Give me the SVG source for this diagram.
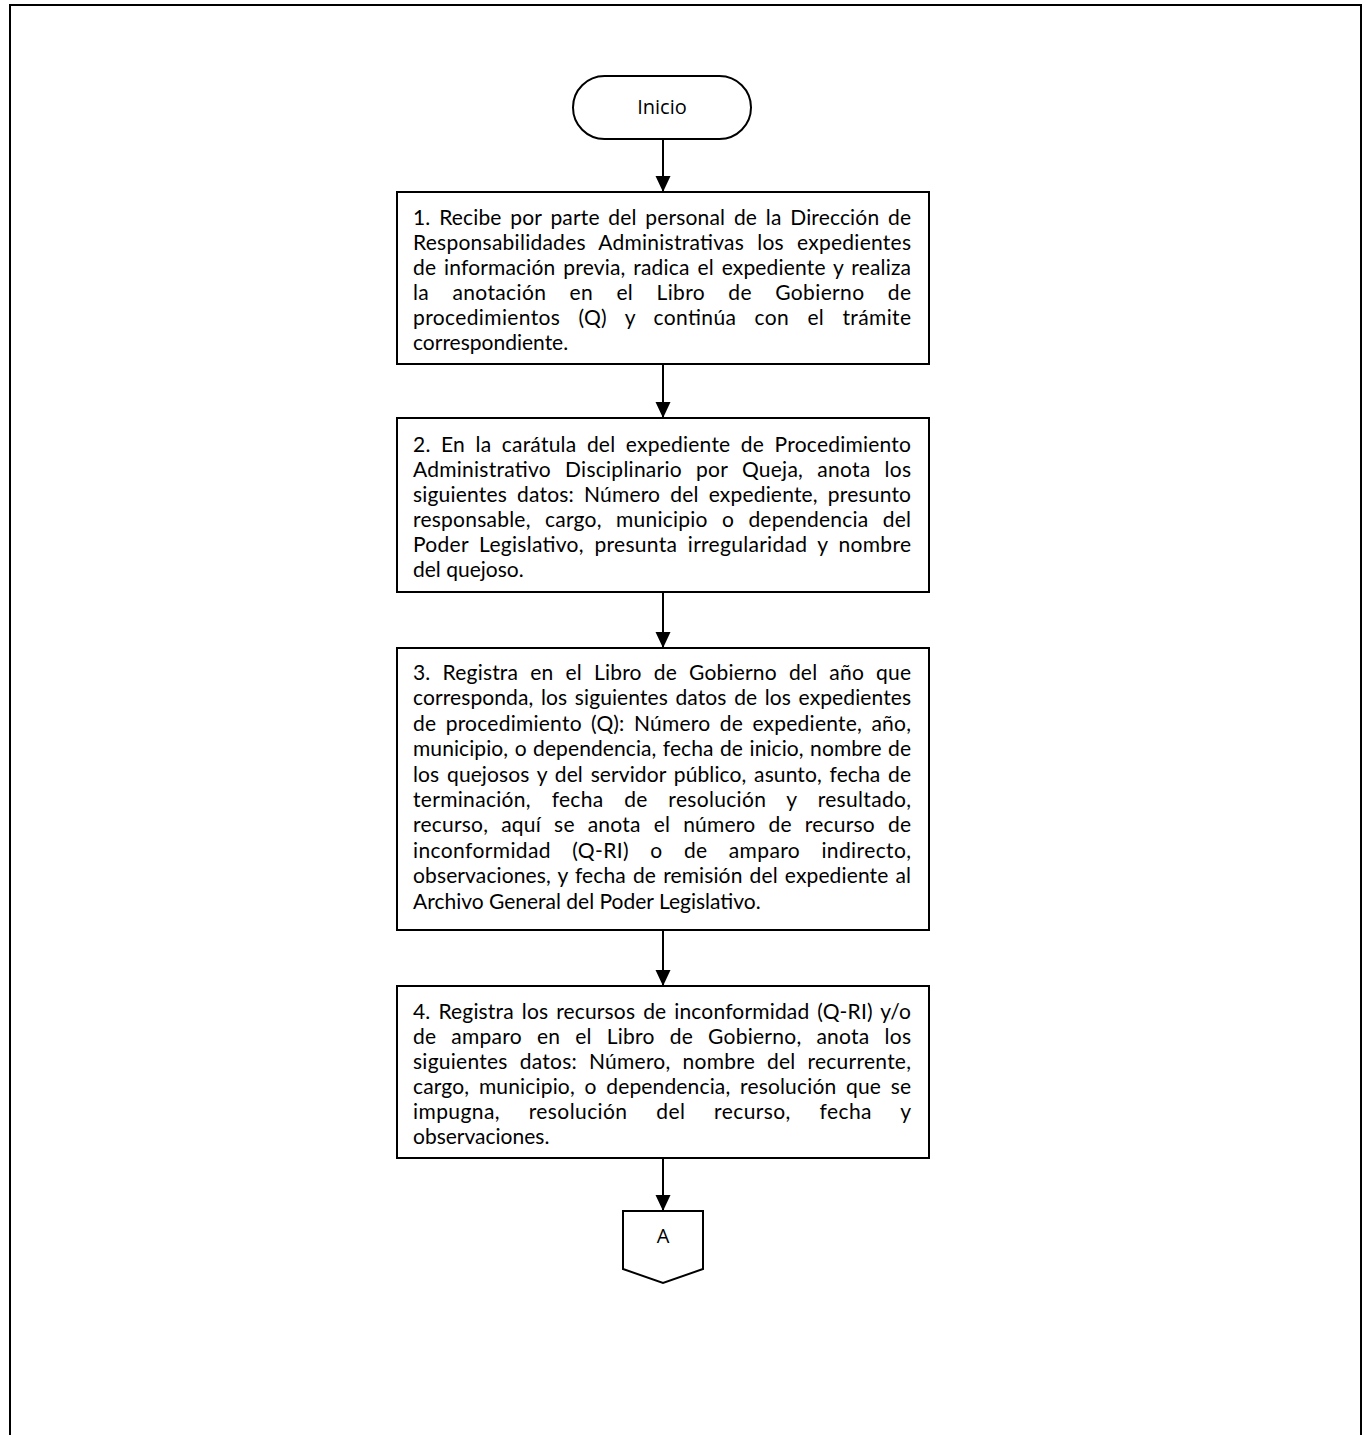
<svg xmlns="http://www.w3.org/2000/svg" width="1366" height="1435" viewBox="0 0 1366 1435">
<style>
.frame{fill:none;stroke:#000;stroke-width:2}
.box{fill:#fff;stroke:#000;stroke-width:2}
.t{font-family:Lato,"Noto Sans",sans-serif;font-size:21px;fill:#000}
.lbl{font-family:"Open Sans","Liberation Sans",sans-serif;font-size:20px;fill:#000;text-anchor:middle}
.conn{stroke:#000;stroke-width:2;fill:none}
</style>
<defs>
<marker id="arr" markerUnits="userSpaceOnUse" markerWidth="16" markerHeight="16" refX="16" refY="8" orient="auto">
<path d="M0,0.5 L16,8 L0,15.5 Z" fill="#000"/>
</marker>
</defs>
<rect width="1366" height="1435" fill="#fff"/>
<path class="frame" d="M10,1435 V5 H1361 V1435"/>

<g id="connectors">
<line class="conn" x1="663" y1="139" x2="663" y2="192" marker-end="url(#arr)"/>
<line class="conn" x1="663" y1="364" x2="663" y2="418" marker-end="url(#arr)"/>
<line class="conn" x1="663" y1="592" x2="663" y2="648" marker-end="url(#arr)"/>
<line class="conn" x1="663" y1="930" x2="663" y2="986" marker-end="url(#arr)"/>
<line class="conn" x1="663" y1="1158" x2="663" y2="1211" marker-end="url(#arr)"/>
</g>

<g id="inicio">
<rect class="box" x="573" y="76" width="178" height="63" rx="31.5" ry="31.5" stroke-width="1.6"/>
<text class="lbl" x="662" y="114">Inicio</text>
</g>

<g id="step1">
<rect class="box" x="397" y="192" width="532" height="172"/>
<text class="t" x="413" y="225" word-spacing="3.2" textLength="498" lengthAdjust="spacing">1. Recibe por parte del personal de la Dirección de</text>
<text class="t" x="413" y="250" word-spacing="7.5" textLength="498" lengthAdjust="spacing">Responsabilidades Administrativas los expedientes</text>
<text class="t" x="413" y="275" word-spacing="2.3" textLength="498" lengthAdjust="spacing">de información previa, radica el expediente y realiza</text>
<text class="t" x="413" y="300" word-spacing="17.5" textLength="498" lengthAdjust="spacing">la anotación en el Libro de Gobierno de</text>
<text class="t" x="413" y="325" word-spacing="12.5" textLength="498" lengthAdjust="spacing">procedimientos (Q) y continúa con el trámite</text>
<text class="t" x="413" y="350">correspondiente.</text>
</g>

<g id="step2">
<rect class="box" x="397" y="418" width="532" height="174"/>
<text class="t" x="413" y="452" word-spacing="4.8" textLength="498" lengthAdjust="spacing">2. En la carátula del expediente de Procedimiento</text>
<text class="t" x="413" y="477" word-spacing="8.5" textLength="498" lengthAdjust="spacing">Administrativo Disciplinario por Queja, anota los</text>
<text class="t" x="413" y="502" word-spacing="4.5" textLength="498" lengthAdjust="spacing">siguientes datos: Número del expediente, presunto</text>
<text class="t" x="413" y="527" word-spacing="8.7" textLength="498" lengthAdjust="spacing">responsable, cargo, municipio o dependencia del</text>
<text class="t" x="413" y="552" word-spacing="5" textLength="498" lengthAdjust="spacing">Poder Legislativo, presunta irregularidad y nombre</text>
<text class="t" x="413" y="577">del quejoso.</text>
</g>

<g id="step3">
<rect class="box" x="397" y="648" width="532" height="282"/>
<text class="t" x="413" y="680" word-spacing="6.5" textLength="498" lengthAdjust="spacing">3. Registra en el Libro de Gobierno del año que</text>
<text class="t" x="413" y="705.4" word-spacing="2.1" textLength="498" lengthAdjust="spacing">corresponda, los siguientes datos de los expedientes</text>
<text class="t" x="413" y="730.8" word-spacing="3.7" textLength="498" lengthAdjust="spacing">de procedimiento (Q): Número de expediente, año,</text>
<text class="t" x="413" y="756.2" word-spacing="1" textLength="498" lengthAdjust="spacing">municipio, o dependencia, fecha de inicio, nombre de</text>
<text class="t" x="413" y="781.6" word-spacing="2.3" textLength="498" lengthAdjust="spacing">los quejosos y del servidor público, asunto, fecha de</text>
<text class="t" x="413" y="807" word-spacing="15" textLength="498" lengthAdjust="spacing">terminación, fecha de resolución y resultado,</text>
<text class="t" x="413" y="832.4" word-spacing="7.4" textLength="498" lengthAdjust="spacing">recurso, aquí se anota el número de recurso de</text>
<text class="t" x="413" y="857.8" word-spacing="15.5" textLength="498" lengthAdjust="spacing">inconformidad (Q-RI) o de amparo indirecto,</text>
<text class="t" x="413" y="883.2" word-spacing="1.6" textLength="498" lengthAdjust="spacing">observaciones, y fecha de remisión del expediente al</text>
<text class="t" x="413" y="908.6">Archivo General del Poder Legislativo.</text>
</g>

<g id="step4">
<rect class="box" x="397" y="986" width="532" height="172"/>
<text class="t" x="413" y="1019" word-spacing="2.4" textLength="498" lengthAdjust="spacing">4. Registra los recursos de inconformidad (Q-RI) y/o</text>
<text class="t" x="413" y="1044" word-spacing="9.3" textLength="498" lengthAdjust="spacing">de amparo en el Libro de Gobierno, anota los</text>
<text class="t" x="413" y="1069" word-spacing="6.3" textLength="498" lengthAdjust="spacing">siguientes datos: Número, nombre del recurrente,</text>
<text class="t" x="413" y="1094" word-spacing="4.1" textLength="498" lengthAdjust="spacing">cargo, municipio, o dependencia, resolución que se</text>
<text class="t" x="413" y="1119" word-spacing="23" textLength="498" lengthAdjust="spacing">impugna, resolución del recurso, fecha y</text>
<text class="t" x="413" y="1144">observaciones.</text>
</g>

<g id="connectorA">
<polygon class="box" points="623,1211 703,1211 703,1269 663,1283 623,1269"/>
<text class="lbl" x="663" y="1243">A</text>
</g>
</svg>
